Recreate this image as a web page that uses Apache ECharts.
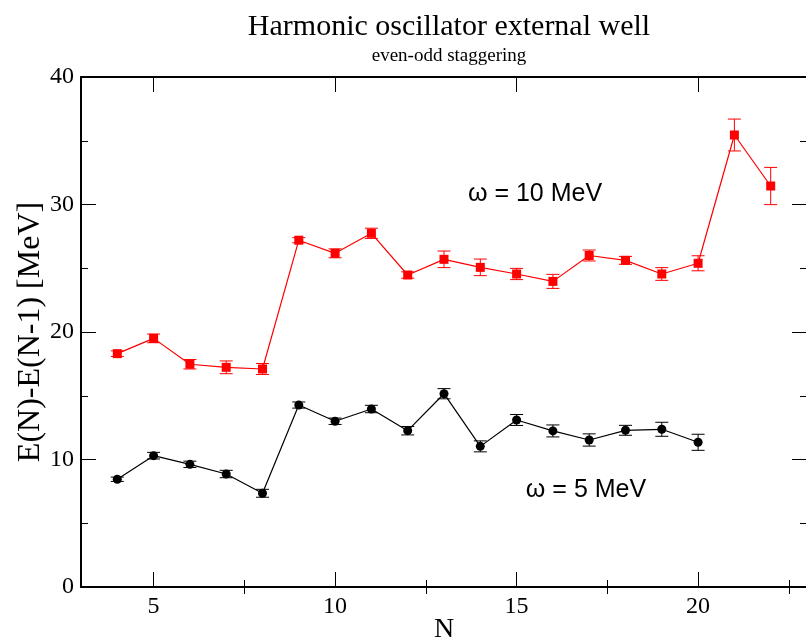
<!DOCTYPE html>
<html>
<head>
<meta charset="utf-8">
<script src="https://cdn.jsdelivr.net/npm/echarts@6/dist/echarts.min.js"></script>
<style>
  html, body { margin: 0; padding: 0; background: #fff; }
  #chart { width: 806px; height: 640px; }
</style>
</head>
<body>
<div id="chart"></div>
<script>
// Particle number N for each curve
const nRed = [4, 5, 6, 7, 8, 9, 10, 11, 12, 13, 14, 15, 16, 17, 18, 19, 20, 21, 22];
const nBlack = [4, 5, 6, 7, 8, 9, 10, 11, 12, 13, 14, 15, 16, 17, 18, 19, 20];

// E(N)-E(N-1) in MeV, omega = 10 MeV
const redValues = [18.3, 19.5, 17.47, 17.23, 17.1, 27.2, 26.17, 27.74, 24.47, 25.7, 25.07, 24.55, 23.97, 26.0, 25.62, 24.55, 25.39, 35.45, 31.45];
const redErrors = [0.22, 0.34, 0.37, 0.5, 0.43, 0.2, 0.35, 0.4, 0.25, 0.65, 0.65, 0.44, 0.55, 0.43, 0.31, 0.5, 0.59, 1.25, 1.46];

// E(N)-E(N-1) in MeV, omega = 5 MeV
const blackValues = [8.45, 10.3, 9.62, 8.86, 7.35, 14.27, 13.0, 13.96, 12.26, 15.16, 11.03, 13.1, 12.24, 11.53, 12.29, 12.37, 11.35];
const blackErrors = [0.17, 0.26, 0.25, 0.29, 0.31, 0.24, 0.25, 0.29, 0.33, 0.4, 0.43, 0.43, 0.47, 0.48, 0.39, 0.55, 0.63];

// Axis ticks
const xMajorTicks = [5, 10, 15, 20];
const xMinorTicks = [7.5, 12.5, 17.5, 22.5];

const serif = '"Liberation Serif", "DejaVu Serif", serif';
const sans = '"Liberation Sans", Arial, sans-serif';

const points = (ns, vs) => ns.map((n, i) => [n, vs[i]]);
const bars = (ns, vs, es) => ns.map((n, i) => [n, vs[i] - es[i], vs[i] + es[i]]);

function errorBarRenderer(color) {
  return function (params, api) {
    const x = api.value(0);
    const top = api.coord([x, api.value(2)]);
    const bot = api.coord([x, api.value(1)]);
    const hw = 6.5;
    const style = { stroke: color, lineWidth: 1 };
    return {
      type: 'group',
      children: [
        { type: 'line', shape: { x1: top[0], y1: top[1], x2: bot[0], y2: bot[1] }, style },
        { type: 'line', shape: { x1: top[0] - hw, y1: top[1], x2: top[0] + hw, y2: top[1] }, style },
        { type: 'line', shape: { x1: bot[0] - hw, y1: bot[1], x2: bot[0] + hw, y2: bot[1] }, style }
      ]
    };
  };
}

function xAxisDef(position, ticks, len, opts) {
  return Object.assign({
    type: 'value', position, min: 3, max: 23,
    axisLine: { show: false },
    axisTick: { show: true, inside: true, length: len, customValues: ticks, lineStyle: { color: '#000', width: 1 } },
    axisLabel: { show: false },
    splitLine: { show: false }
  }, opts || {});
}

function yAxisDef(position, opts) {
  return Object.assign({
    type: 'value', position, min: 0, max: 40, interval: 10,
    axisLine: { show: false },
    axisTick: { show: true, inside: true, length: 15, lineStyle: { color: '#000', width: 1 } },
    minorTick: { show: true, splitNumber: 2, length: 7, lineStyle: { color: '#000', width: 1 } },
    axisLabel: { show: false },
    splitLine: { show: false }
  }, opts || {});
}

const chart = echarts.init(document.getElementById('chart'), null, { renderer: 'canvas' });

chart.setOption({
  backgroundColor: '#fff',
  animation: false,
  title: [
    {
      text: 'Harmonic oscillator external well',
      left: 444, top: 7, textAlign: 'center',
      textStyle: { fontFamily: serif, fontSize: 30, fontWeight: 'normal', color: '#000' }
    },
    {
      text: 'even-odd staggering',
      left: 444, top: 42, textAlign: 'center',
      textStyle: { fontFamily: serif, fontSize: 19, fontWeight: 'normal', color: '#000' }
    }
  ],
  grid: { left: 81, right: -1, top: 77, bottom: 53, containLabel: false, outerBoundsMode: 'none' },
  xAxis: [
    xAxisDef('bottom', xMajorTicks, 15, {
      axisLine: { show: true, onZero: false, lineStyle: { color: '#000', width: 2 } },
      axisLabel: { show: true, customValues: xMajorTicks, margin: 8, color: '#000', fontFamily: serif, fontSize: 24 },
      name: 'N', nameLocation: 'middle', nameGap: 29, nameMoveOverlap: false,
      nameTextStyle: { fontFamily: serif, fontSize: 28, color: '#000' }
    }),
    xAxisDef('bottom', xMinorTicks, 7),
    xAxisDef('top', xMajorTicks, 15, {
      axisLine: { show: true, onZero: false, lineStyle: { color: '#000', width: 2 } }
    }),
    xAxisDef('top', xMinorTicks, 7)
  ],
  yAxis: [
    yAxisDef('left', {
      axisLine: { show: true, onZero: false, lineStyle: { color: '#000', width: 2 } },
      axisLabel: { show: true, margin: 7, color: '#000', fontFamily: serif, fontSize: 24 },
      name: 'E(N)-E(N-1) [MeV]', nameLocation: 'middle', nameGap: 34, nameRotate: 90, nameMoveOverlap: false,
      nameTextStyle: { fontFamily: serif, fontSize: 32, color: '#000' }
    }),
    yAxisDef('right')
  ],
  graphic: [
    {
      type: 'text', x: 535, y: 194,
      style: { text: 'ω = 10 MeV', font: '25px ' + sans, fill: '#000', textAlign: 'center', textVerticalAlign: 'middle' }
    },
    {
      type: 'text', x: 586, y: 490,
      style: { text: 'ω = 5 MeV', font: '25px ' + sans, fill: '#000', textAlign: 'center', textVerticalAlign: 'middle' }
    }
  ],
  series: [
    {
      name: 'ω = 10 MeV', type: 'line', xAxisIndex: 0, yAxisIndex: 0,
      data: points(nRed, redValues),
      symbol: 'rect', symbolSize: 9,
      lineStyle: { color: '#ff0000', width: 1.2 },
      itemStyle: { color: '#ff0000' },
      z: 3
    },
    {
      type: 'custom', xAxisIndex: 0, yAxisIndex: 0,
      data: bars(nRed, redValues, redErrors),
      encode: { x: 0, y: [1, 2] },
      renderItem: errorBarRenderer('#ff0000'),
      z: 2
    },
    {
      name: 'ω = 5 MeV', type: 'line', xAxisIndex: 0, yAxisIndex: 0,
      data: points(nBlack, blackValues),
      symbol: 'circle', symbolSize: 9,
      lineStyle: { color: '#000', width: 1.2 },
      itemStyle: { color: '#000' },
      z: 3
    },
    {
      type: 'custom', xAxisIndex: 0, yAxisIndex: 0,
      data: bars(nBlack, blackValues, blackErrors),
      encode: { x: 0, y: [1, 2] },
      renderItem: errorBarRenderer('#000'),
      z: 2
    }
  ]
});
</script>
</body>
</html>
